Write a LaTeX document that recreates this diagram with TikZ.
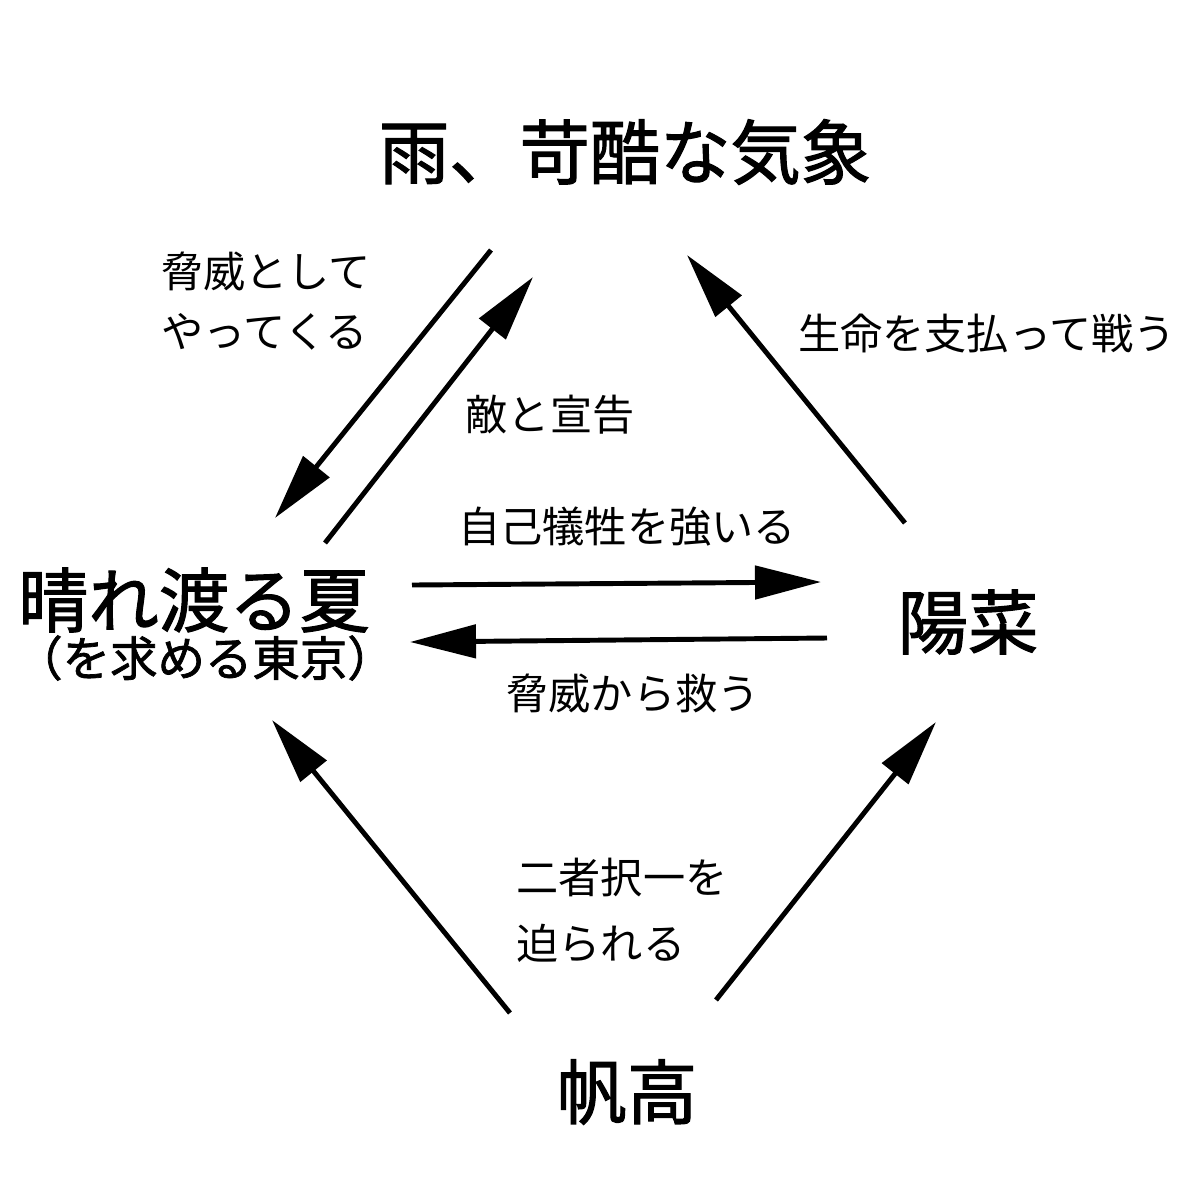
\documentclass[tikz,border=0pt]{standalone}
\usepackage{fontspec}
\setmainfont{Noto Sans CJK JP}
\newfontfamily\heavyjp[FakeBold=1.6]{Noto Sans CJK JP}
\usetikzlibrary{arrows.meta}

\begin{document}
\begin{tikzpicture}[x=1cm, y=-1cm, >={Triangle[length=6.6mm, width=3.3mm]},
    big/.style={font=\heavyjp\fontsize{20}{24}\selectfont, inner sep=0pt},
    sub/.style={font=\heavyjp\fontsize{13.5}{16}\selectfont, inner sep=0pt},
    lab/.style={font=\fontsize{12}{17.3}\selectfont, inner sep=0pt, align=left},
    arr/.style={->, line width=1.4pt}]
    \useasboundingbox[fill=white] (0,0) rectangle (12,12);

    % main nodes
    \node[big] (rain) at (6.25,1.52) {雨、苛酷な気象};
    \node[big] (summer) at (1.94,6.00) {晴れ渡る夏};
    \node[sub] (tokyo) at (2.05,6.58) {（を求める東京）};
    \node[big] (hina) at (9.68,6.22) {陽菜};
    \node[big] (hodaka) at (6.27,10.92) {帆高};

    % labels
    \node[lab] (threat) at (2.66,3.01) {脅威として\\やってくる};
    \node[lab] (enemy) at (5.50,4.15) {敵と宣告};
    \node[lab] (fight) at (9.87,3.33) {生命を支払って戦う};
    \node[lab] (sacrifice) at (6.27,5.27) {自己犠牲を強いる};
    \node[lab] (save) at (6.33,6.93) {脅威から救う};
    \node[lab, font=\fontsize{12}{18.7}\selectfont] (choice) at (6.22,9.10) {二者択一を\\迫られる};

    % arrow ends
    \coordinate (rain-a) at (4.91,2.50);
    \coordinate (summer-a) at (2.75,5.18);
    \coordinate (summer-b) at (3.25,5.43);
    \coordinate (rain-b) at (5.33,2.77);
    \coordinate (hina-a) at (9.05,5.23);
    \coordinate (rain-c) at (6.87,2.55);
    \coordinate (summer-c) at (4.12,5.85);
    \coordinate (hina-b) at (8.21,5.82);
    \coordinate (hina-c) at (8.27,6.38);
    \coordinate (summer-d) at (4.10,6.42);
    \coordinate (hodaka-a) at (5.10,10.13);
    \coordinate (summer-e) at (2.72,7.20);
    \coordinate (hodaka-b) at (7.16,10.00);
    \coordinate (hina-d) at (9.36,7.22);

    \draw[arr] (rain-a) -- (summer-a);
    \draw[arr] (summer-b) -- (rain-b);
    \draw[arr] (hina-a) -- (rain-c);
    \draw[arr] (summer-c) -- (hina-b);
    \draw[arr] (hina-c) -- (summer-d);
    \draw[arr] (hodaka-a) -- (summer-e);
    \draw[arr] (hodaka-b) -- (hina-d);
\end{tikzpicture}
\end{document}
